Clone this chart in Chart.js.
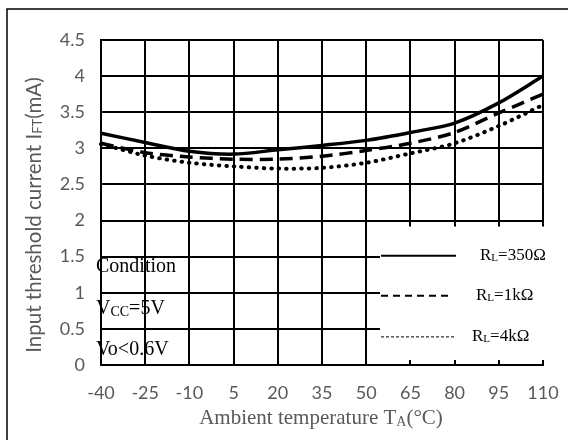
<!DOCTYPE html>
<html>
<head>
<meta charset="utf-8">
<script src="https://cdn.jsdelivr.net/npm/chart.js@4.4.1/dist/chart.umd.min.js"></script>
<style>
  html, body { margin: 0; padding: 0; background: #fff; }
  #wrap { position: relative; width: 568px; height: 440px; }
</style>
</head>
<body>
<div id="wrap"><canvas id="myChart" width="568" height="440"></canvas></div>
<script>
var temps = ['-40', '-25', '-10', '5', '20', '35', '50', '65', '80', '95', '110'];
var rl350 = [3.21, 3.08, 2.96, 2.92, 2.98, 3.04, 3.11, 3.22, 3.35, 3.63, 4.0];
var rl1k = [3.07, 2.94, 2.88, 2.85, 2.85, 2.89, 2.97, 3.07, 3.22, 3.49, 3.75];
var rl4k = [3.06, 2.90, 2.80, 2.75, 2.72, 2.73, 2.80, 2.93, 3.07, 3.31, 3.60];
var legendNames = ['=350Ω', '=1kΩ', '=4kΩ'];
var conditionLines = ['Condition', 'VCC=5V', 'Vo<0.6V'];

var serif = '"Liberation Serif", "Times New Roman", serif';
var sans = 'Lato, "Open Sans", sans-serif';
var gray = '#595959';

// text with a subscript part: [main, sub, rest]
function subText(c, x, y, parts, size, subSize, drop, fam) {
  fam = fam || serif;
  c.font = size + 'px ' + fam;
  c.fillText(parts[0], x, y);
  x += c.measureText(parts[0]).width;
  c.font = subSize + 'px ' + fam;
  c.fillText(parts[1], x, y + drop);
  x += c.measureText(parts[1]).width;
  c.font = size + 'px ' + fam;
  c.fillText(parts[2], x, y);
}

function subWidth(c, parts, size, subSize, fam) {
  fam = fam || serif;
  c.font = size + 'px ' + fam;
  var w = c.measureText(parts[0]).width + c.measureText(parts[2]).width;
  c.font = subSize + 'px ' + fam;
  return w + c.measureText(parts[1]).width;
}

var decor = {
  id: 'decor',
  beforeDatasetsDraw: function (chart) {
    var c = chart.ctx, xs = chart.scales.x, ys = chart.scales.y;
    var a = chart.chartArea;
    // white legend box over the grid
    var bx = 380, by = ys.getPixelForValue(2) + 6;
    c.save();
    c.fillStyle = '#fff';
    c.fillRect(bx, by, a.right - bx + 3, ys.getPixelForValue(0) - 2 - by);
    // little ticks on the bottom axis
    c.strokeStyle = '#000';
    c.lineWidth = 2;
    for (var i = 7; i < temps.length; i++) {
      var px = Math.round(xs.getPixelForValue(i));
      c.beginPath();
      c.moveTo(px, ys.getPixelForValue(0));
      c.lineTo(px, ys.getPixelForValue(0) - 5);
      c.stroke();
    }
    c.restore();
  },
  afterDraw: function (chart) {
    var c = chart.ctx, ys = chart.scales.y;
    c.save();
    // outer frame
    c.strokeStyle = '#000';
    c.lineWidth = 1.5;
    c.beginPath();
    c.moveTo(7, 440);
    c.lineTo(7, 9);
    c.lineTo(568, 9);
    c.stroke();

    // legend samples
    var ly = [ys.getPixelForValue(1.5) - 1, ys.getPixelForValue(1) + 3, ys.getPixelForValue(0.5) + 8];
    var styles = [
      { w: 2, dash: [], end: 456 },
      { w: 2, dash: [7, 5], end: 453 },
      { w: 1, dash: [3, 2], end: 455 }
    ];
    var tx = [480, 476, 472];
    for (var i = 0; i < 3; i++) {
      c.strokeStyle = '#000';
      c.lineWidth = styles[i].w;
      c.setLineDash(styles[i].dash);
      c.beginPath();
      c.moveTo(381, ly[i]);
      c.lineTo(styles[i].end, ly[i]);
      c.stroke();
      c.setLineDash([]);
      c.fillStyle = '#000';
      c.textBaseline = 'middle';
      c.textAlign = 'left';
      subText(c, tx[i], ly[i], ['R', 'L', legendNames[i]], 17, 11, 2);
    }

    // condition notes
    c.fillStyle = '#000';
    c.textBaseline = 'middle';
    c.font = '20px ' + serif;
    c.fillText(conditionLines[0], 96, 267);
    subText(c, 96, 309, ['V', 'CC', '=5V'], 20, 14, 3);
    c.font = '20px ' + serif;
    c.fillText(conditionLines[2], 96, 350);

    // x axis title
    c.fillStyle = gray;
    var parts = ['Ambient temperature T', 'A', '(°C)'];
    var w = subWidth(c, parts, 21, 14);
    subText(c, 321 - w / 2, 418, parts, 21, 14, 4);

    // y axis title (rotated)
    c.translate(34, 215);
    c.rotate(-Math.PI / 2);
    var yp = ['Input threshold current I', 'FT', '(mA)'];
    var yw = subWidth(c, yp, 20.5, 13, sans);
    subText(c, -yw / 2, 0, yp, 20.5, 13, 4, sans);
    c.restore();
  }
};

var ctx = document.getElementById('myChart');

var myChart = new Chart(ctx, {
  type: 'line',
  data: {
    labels: temps,
    datasets: [{
      data: rl350,
      borderColor: '#000',
      borderWidth: 3.5,
      tension: 0.3,
      pointRadius: 0
    }, {
      data: rl1k,
      borderColor: '#000',
      borderWidth: 3.5,
      borderDash: [13, 7],
      tension: 0.3,
      pointRadius: 0
    }, {
      data: rl4k,
      borderColor: '#000',
      borderWidth: 4,
      borderDash: [0.5, 7],
      borderCapStyle: 'round',
      tension: 0.3,
      pointRadius: 0
    }]
  },
  options: {
    responsive: false,
    animation: false,
    layout: {
      padding: { left: 0, right: 25, top: 40, bottom: 0 }
    },
    plugins: {
      legend: { display: false },
      tooltip: { enabled: false }
    },
    scales: {
      x: {
        offset: false,
        grid: {
          color: '#000',
          lineWidth: 2,
          drawTicks: false,
          offset: false
        },
        border: { color: '#000', width: 2 },
        ticks: {
          color: gray,
          font: { family: sans, size: 18 },
          padding: 17,
          maxRotation: 0,
          autoSkip: false
        },
        afterFit: function (scale) {
          scale.height = 75;
          scale.paddingLeft = 0;
          scale.paddingRight = 0;
        }
      },
      y: {
        min: 0,
        max: 4.5,
        grid: {
          color: '#000',
          lineWidth: 2,
          drawTicks: false
        },
        border: { color: '#000', width: 2 },
        ticks: {
          stepSize: 0.5,
          color: gray,
          font: { family: sans, size: 18 },
          padding: 16,
          callback: function (v) { return String(v); }
        },
        afterFit: function (scale) {
          scale.width = 101;
          scale.paddingTop = 0;
          scale.paddingBottom = 0;
        }
      }
    }
  },
  plugins: [decor]
});
</script>
</body>
</html>
